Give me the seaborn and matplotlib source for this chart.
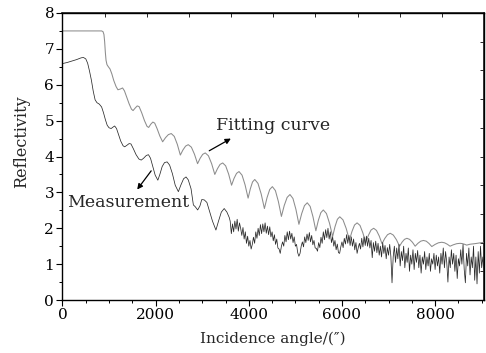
import matplotlib.pyplot as plt
import numpy as np
import pandas as pd
import seaborn as sns

# fitting curve (incidence angle in arcsec, reflectivity)
fit_x = [0, 300, 600, 840, 870, 890, 905, 920, 935, 955, 985, 1020, 1060, 1100,
         1150, 1190, 1240, 1290, 1330, 1380, 1430, 1480, 1515, 1560, 1605, 1645,
         1700, 1760, 1815, 1850, 1895, 1940, 1980, 2030, 2090,
         2150, 2212, 2273, 2335, 2400, 2465, 2530, 2587, 2643, 2700, 2767, 2833,
         2900, 2955, 3010, 3065, 3133, 3202, 3270, 3327, 3383, 3440, 3503, 3567,
         3630, 3683, 3737, 3790, 3855, 3920, 3985, 4033, 4080, 4128, 4197, 4266,
         4335, 4392, 4449, 4506, 4571, 4635, 4700, 4761, 4823, 4884, 4948, 5012,
         5076, 5136, 5195, 5255, 5317, 5378, 5440, 5493, 5547, 5600, 5667, 5733,
         5800, 5851, 5902, 5953, 6022, 6091, 6160, 6215, 6270, 6325, 6387, 6448,
         6510, 6567, 6624, 6681, 6741, 6800, 6860, 6919, 6978, 7037, 7103, 7170,
         7236, 7289, 7341, 7394, 7453, 7513, 7572, 7631, 7691, 7750, 7810, 7870,
         7929, 8000, 8072, 8143, 8202, 8262, 8321, 8392, 8464, 8535, 8583, 8630,
         8678, 8750, 8850, 8950, 9050]
fit_y = [7.5, 7.5, 7.5, 7.5, 7.48, 7.4, 7.2, 6.9, 6.68, 6.56, 6.5, 6.44, 6.3, 6.12,
         5.95, 5.86, 5.88, 5.91, 5.83, 5.65, 5.47, 5.32, 5.28, 5.35, 5.41, 5.39,
         5.22, 5.0, 4.84, 4.81, 4.9, 4.96, 4.93, 4.78, 4.57,
         4.41, 4.525, 4.61, 4.64, 4.56, 4.34, 4.04, 4.185, 4.29, 4.33, 4.26, 4.065,
         3.8, 3.95, 4.06, 4.1, 4.02, 3.8, 3.5, 3.66, 3.78, 3.82, 3.74, 3.51,
         3.2, 3.39, 3.53, 3.58, 3.48, 3.21, 2.84, 3.1, 3.29, 3.36, 3.25, 2.955,
         2.55, 2.855, 3.08, 3.16, 3.05, 2.745, 2.33, 2.635, 2.86, 2.94, 2.83, 2.525,
         2.11, 2.41, 2.63, 2.71, 2.61, 2.32, 1.93, 2.22, 2.435, 2.51, 2.41, 2.14,
         1.77, 2.045, 2.25, 2.32, 2.235, 1.995, 1.67, 1.91, 2.09, 2.15, 2.08, 1.875,
         1.6, 1.8, 1.95, 2.0, 1.94, 1.785, 1.57, 1.715, 1.82, 1.86, 1.81, 1.68,
         1.5, 1.61, 1.69, 1.72, 1.69, 1.61, 1.5, 1.58, 1.64, 1.66, 1.64, 1.575,
         1.49, 1.55, 1.595, 1.61, 1.595, 1.555, 1.5, 1.54, 1.57, 1.58, 1.573, 1.555,
         1.53, 1.555, 1.57, 1.59, 1.61]

# measurement, smooth low-angle part
meas_x_low = [0, 100, 200, 300, 400, 450, 500, 540, 580, 620, 660, 700, 740, 790,
              840, 880, 920, 960, 1000, 1045, 1085, 1120, 1160, 1200, 1250, 1300,
              1335, 1380, 1430, 1470, 1520, 1580, 1640, 1690, 1740, 1800, 1846,
              1890, 1940, 1990, 2047, 2090, 2140, 2190, 2246, 2300, 2360, 2420,
              2488, 2540, 2600, 2652, 2700, 2760, 2810, 2850, 2902, 2950, 2990,
              3044, 3100, 3150, 3220, 3294, 3350, 3410, 3472, 3530, 3580]
meas_y_low = [6.59, 6.62, 6.66, 6.7, 6.75, 6.76, 6.72, 6.6, 6.38, 6.13, 5.82, 5.58,
              5.5, 5.46, 5.38, 5.22, 5.03, 4.87, 4.8, 4.78, 4.82, 4.85, 4.78, 4.62,
              4.43, 4.3, 4.27, 4.31, 4.36, 4.35, 4.22, 4.05, 3.93, 3.9, 3.95, 4.03,
              4.05, 3.95, 3.72, 3.48, 3.34, 3.5, 3.72, 3.83, 3.85, 3.76, 3.52, 3.2,
              3.02, 3.2, 3.38, 3.43, 3.35, 3.1, 2.65, 2.6, 2.51, 2.62, 2.8,
              2.79, 2.72, 2.5, 2.2, 1.95, 2.2, 2.45, 2.55, 2.45, 2.3]

# measurement, noisy high-angle part (scan step 25")
meas_x_high = np.arange(3600, 9051, 25)
meas_y_high = [
    2.2, 1.85, 2.12, 1.9, 2.2, 1.98, 2.25, 1.92, 2.15, 2.0, 1.8, 2.02, 1.7, 1.9, 1.58, 1.78, 1.5, 1.66, 1.42, 1.55,
    1.75, 1.58, 1.9, 1.72, 2.0, 1.8, 2.1, 1.85, 2.12, 1.9, 2.15, 1.86, 2.06, 1.82, 2.04, 1.76, 1.9, 1.65, 1.82, 1.55,
    1.7, 1.45, 1.42, 1.3, 1.5, 1.62, 1.5, 1.8, 1.62, 1.9, 1.68, 1.92, 1.7, 1.86, 1.6, 1.76, 1.5, 1.55, 1.32, 1.22,
    1.3, 1.5, 1.62, 1.48, 1.76, 1.6, 1.84, 1.66, 1.88, 1.62, 1.8, 1.54, 1.66, 1.45, 1.44, 1.36, 1.6, 1.46, 1.75, 1.58,
    1.9, 1.68, 1.96, 1.74, 2.0, 1.7, 1.9, 1.6, 1.76, 1.5, 1.66, 1.4, 1.56, 1.32, 1.3, 1.48, 1.62, 1.46, 1.72, 1.56,
    1.82, 1.58, 1.8, 1.52, 1.76, 1.5, 1.7, 1.4, 1.6, 1.3, 1.46, 1.58, 1.42, 1.72, 1.48, 1.76, 1.52, 1.78, 1.5, 1.72,
    1.45, 1.66, 1.18, 1.6, 1.36, 1.64, 1.32, 1.58, 1.25, 1.5, 1.2, 1.6, 1.3, 1.52, 1.15, 1.46, 1.25, 1.55, 1.22, 0.48,
    1.2, 1.5, 1.05, 1.45, 1.15, 1.55, 0.95, 1.35, 1.1, 1.5, 0.9, 1.3, 1.05, 1.45, 0.8, 1.25, 1.0, 1.4, 0.85, 1.3,
    1.05, 1.38, 0.9, 1.25, 0.75, 1.2, 1.0, 1.35, 0.85, 1.2, 0.95, 1.3, 0.8, 1.15, 1.0, 1.3, 0.85, 1.25, 0.95, 1.2,
    0.75, 1.3, 1.0, 1.45, 0.9, 1.35, 1.05, 0.5, 1.2, 0.9, 1.4, 1.0, 1.3, 0.8, 1.25, 0.6, 1.15, 0.95, 1.4, 1.0,
    1.55, 0.85, 0.48, 1.3, 0.95, 1.45, 0.7, 1.2, 0.9, 1.5, 0.55, 1.2, 0.45, 1.35, 0.75, 1.5, 0.9, 1.2, 0.85]

fit_df = pd.DataFrame({'angle': fit_x, 'refl': fit_y})
meas_df = pd.DataFrame({'angle': list(meas_x_low) + list(meas_x_high),
                        'refl': list(meas_y_low) + list(meas_y_high)})

sns.set_theme(style='ticks')
plt.rcParams['font.family'] = ['DejaVu Serif']
plt.rcParams['axes.unicode_minus'] = False

fig = plt.figure(figsize=(4.86, 3.53), dpi=100)
ax = fig.add_axes([0.1286, 0.1501, 0.8673, 0.8131])

sns.lineplot(data=fit_df, x='angle', y='refl', ax=ax, sort=False, estimator=None,
             color='#8c8c8c', linewidth=0.75)
sns.lineplot(data=meas_df, x='angle', y='refl', ax=ax, sort=False, estimator=None,
             color='#2a2a2a', linewidth=0.55)

ax.set_xlim(0, 9050)
ax.set_ylim(0, 8)
ax.set_xticks([0, 2000, 4000, 6000, 8000])
ax.set_xticks(np.arange(0, 9001, 500), minor=True)
ax.set_yticks(range(0, 9))
ax.set_yticks(np.arange(0, 8.01, 0.5), minor=True)
ax.tick_params(which='both', direction='out', labelsize=11, color='black',
               labelcolor='black', pad=2)
ax.tick_params(which='major', length=4, width=0.8)
ax.tick_params(which='minor', length=2.5, width=0.7)
for s in ax.spines.values():
    s.set_linewidth(1.0)
    s.set_color('black')

# mirrored ticks on top / right
top = ax.secondary_xaxis('top')
top.set_xticks(np.linspace(0, 9050, 11)[1:-1])
top.tick_params(direction='in', length=3, width=0.7, labeltop=False)
right = ax.secondary_yaxis('right')
right.set_yticks(np.arange(0.8, 7.3, 0.8))
right.tick_params(direction='in', length=3, width=0.7, labelright=False)

ax.set_xlabel('Incidence angle/(″)', fontsize=11, labelpad=7)
ax.set_ylabel('Reflectivity', fontsize=11.5)
ax.yaxis.set_label_coords(-0.078, 0.55)

ax.annotate('', xy=(3615, 4.50), xytext=(3151, 4.16),
            arrowprops=dict(arrowstyle='-|>', color='black', lw=0.9,
                            mutation_scale=8, shrinkA=0, shrinkB=0))
ax.text(3300, 4.87, 'Fitting curve', fontsize=12.5, va='center', ha='left')
ax.annotate('', xy=(1604, 3.08), xytext=(1904, 3.6),
            arrowprops=dict(arrowstyle='-|>', color='black', lw=0.9,
                            mutation_scale=8, shrinkA=0, shrinkB=0))
ax.text(90, 2.71, 'Measurement', fontsize=12.5, va='center', ha='left')

fig.savefig('out.png', dpi=100)
